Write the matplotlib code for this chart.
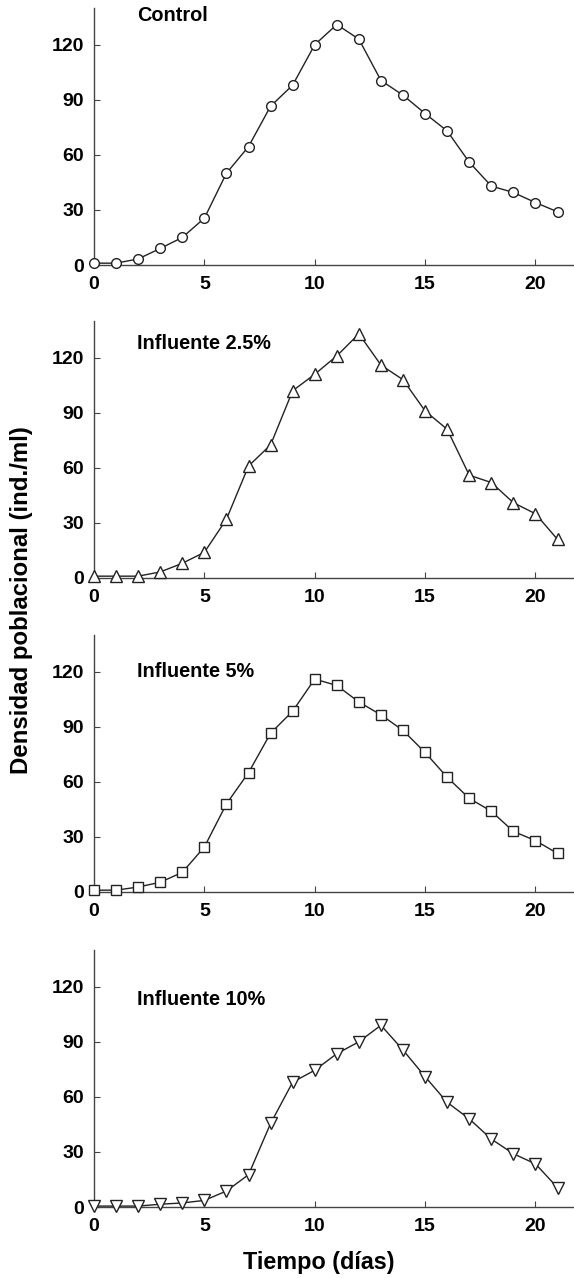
import matplotlib
matplotlib.use("Agg")
import matplotlib.pyplot as plt

# =========== Data ============

dias = list(range(22))

control = [1, 1, 3.3, 9, 15, 25.5, 50, 64.5, 86.5, 98, 120, 131,
           123, 100.5, 92.5, 82.5, 73, 56, 43, 39.5, 34, 29]
influente_2_5 = [1, 1, 1, 3.3, 8, 14, 32, 61, 72.5, 102, 111, 121,
                 133, 116, 108, 91, 81, 56, 52, 41, 35, 21]
influente_5 = [1, 1, 2.7, 5.3, 10.7, 24.5, 48, 65, 86.5, 98.5, 116, 112.5,
               103.5, 96.5, 88, 76, 62.5, 51, 44, 33, 28, 21]
influente_10 = [0.5, 0.5, 0.5, 1.5, 2.2, 3.6, 8.7, 17.6, 45.5, 68, 74.5, 83.5,
                90, 99, 85.5, 71, 57, 48, 37, 29, 23.5, 10.5]

series = [control, influente_2_5, influente_5, influente_10]
labels = ["Control", "Influente 2.5%", "Influente 5%", "Influente 10%"]
markers = ["o", "^", "s", "v"]
label_y = [136, 128, 120, 113]

yticks = [0, 30, 60, 90, 120]
xticks = [0, 5, 10, 15, 20]

# =========== Layout ============

W, H = 574, 1278
DPI = 100
panels_px = [(8, 265), (321, 578), (635, 892), (950, 1207)]  # top, bottom
left_px, right_px = 94, 573

plt.rcParams["font.family"] = ["Liberation Sans", "DejaVu Sans"]
plt.rcParams["font.weight"] = "bold"

fig = plt.figure(figsize=(W / DPI, H / DPI), dpi=DPI)

for i, (top, bottom) in enumerate(panels_px):
    ax = fig.add_axes([left_px / W, 1 - bottom / H,
                       (right_px - left_px) / W, (bottom - top) / H])
    msize = 7 if markers[i] in ("o", "s") else 8
    ax.plot(dias, series[i], color="#222222", linewidth=1.0,
            marker=markers[i], markersize=msize, markerfacecolor="white",
            markeredgecolor="#222222", markeredgewidth=1.0, clip_on=False,
            zorder=3)
    ax.set_xlim(0, 21.7)
    ax.set_ylim(0, 140)
    ax.set_xticks(xticks)
    ax.set_yticks(yticks)
    for s in ("top", "right"):
        ax.spines[s].set_visible(False)
    for s in ("left", "bottom"):
        ax.spines[s].set_color("#444444")
        ax.spines[s].set_linewidth(1.0)
    ax.tick_params(axis="y", direction="in", length=4, width=0.8,
                   color="#444444", labelsize=14, pad=7)
    ax.tick_params(axis="x", direction="in", length=4, width=0.8,
                   color="#444444", labelsize=14, pad=8)
    for lab in ax.get_xticklabels() + ax.get_yticklabels():
        lab.set_fontweight("bold")
    ax.text(1.95, label_y[i], labels[i], fontsize=14.3, fontweight="bold",
            va="center", ha="left")

fig.text(22 / W, 1 - 600 / H, "Densidad poblacional (ind./ml)",
         rotation=90, va="center", ha="center", fontsize=17.3,
         fontweight="bold")
fig.text(319 / W, 1 - 1262 / H, "Tiempo (días)", va="center", ha="center",
         fontsize=16.8, fontweight="bold")

fig.savefig("out.png", dpi=DPI)
